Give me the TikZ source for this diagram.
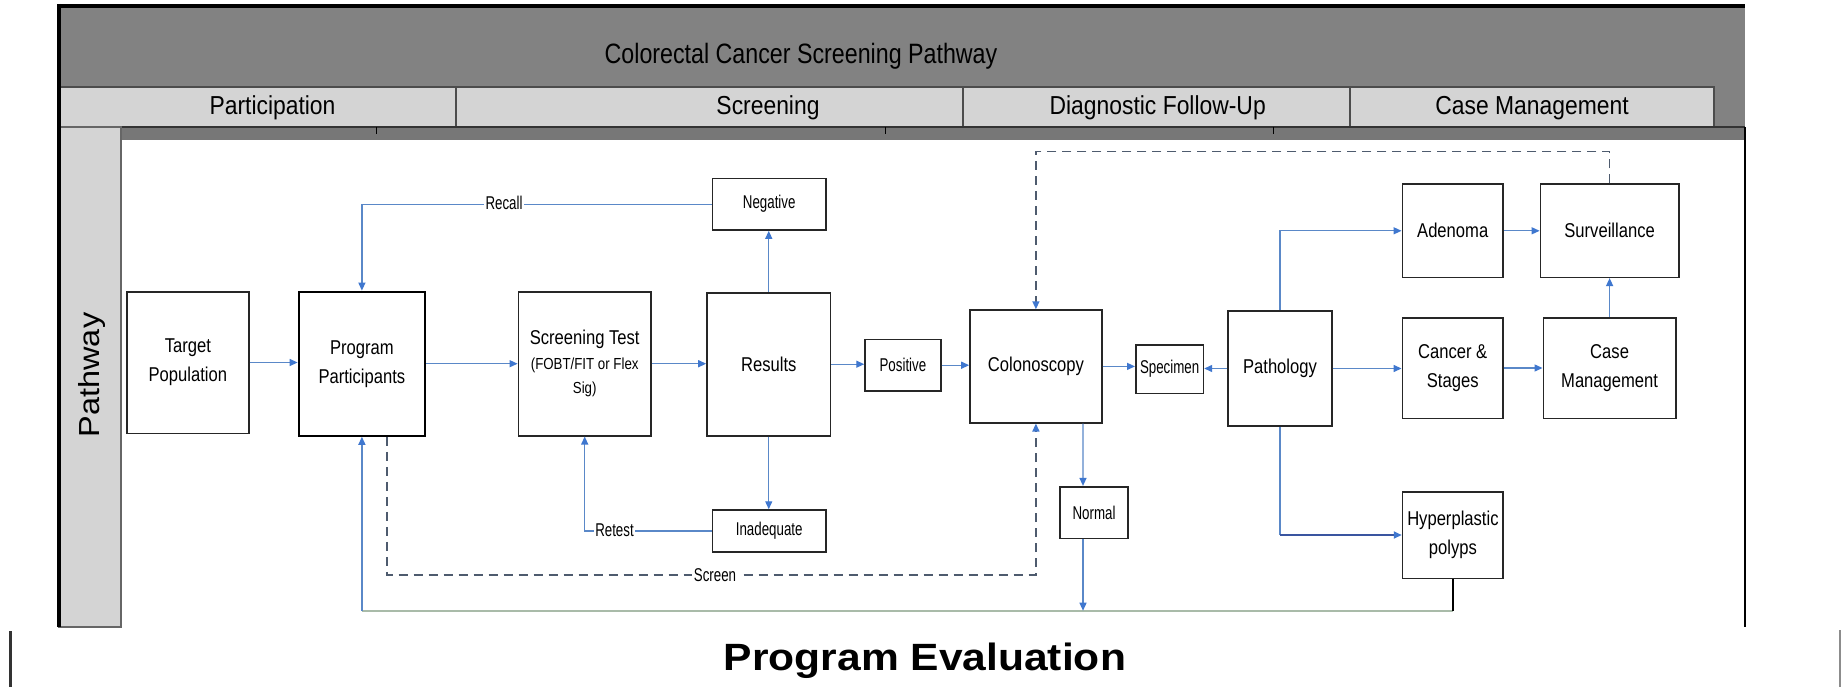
\documentclass[tikz,border=0pt]{standalone}
\usepackage{fontspec}
\setmainfont{Liberation Sans}
\newfontfamily\boxfont[FakeStretch=0.83]{Liberation Sans}
\newfontfamily\labfont[FakeStretch=0.72]{Liberation Sans}
\newfontfamily\headfont[FakeStretch=0.88]{Liberation Sans}
\newfontfamily\widefont[FakeStretch=1.12]{Liberation Sans}
\usetikzlibrary{arrows.meta,calc}
\definecolor{bandgray}{HTML}{828282}
\definecolor{stripgray}{HTML}{777777}
\definecolor{cellgray}{HTML}{D4D4D4}
\definecolor{flowblue}{HTML}{5A88C8}
\definecolor{tipblue}{HTML}{3F77CF}
\definecolor{navyblue}{HTML}{3A55A0}
\definecolor{dashgray}{HTML}{4E5B6E}
\definecolor{basegreen}{HTML}{A9BBA9}
\begin{document}
\begin{tikzpicture}[x=1pt,y=-1pt,
  box/.style={draw=black!85, line width=1.6pt, fill=white, inner sep=0pt, align=center,
    font=\boxfont\fontsize{20}{29}\selectfont},
  sbox/.style={draw=black!85, line width=1.6pt, fill=white, inner sep=0pt, align=center,
    font=\labfont\fontsize{18.5}{22}\selectfont},
  lab/.style={fill=white, inner sep=1.5pt, font=\labfont\fontsize{18.5}{22}\selectfont},
  head/.style={anchor=base, font=\headfont\fontsize{26}{28}\selectfont},
  flow/.style={draw=flowblue, line width=1.3pt, -{Triangle[length=8pt,width=7pt,color=tipblue]}},
  plainflow/.style={draw=flowblue, line width=1.3pt},
  dashflow/.style={draw=dashgray, line width=1.5pt, dash pattern=on 9pt off 6pt,
    -{Triangle[length=8pt,width=7pt,color=tipblue]}},
  baseroute/.style={draw=basegreen, line width=1.8pt},
]
\useasboundingbox (0,0) rectangle (1843,687);
\fill[white] (0,0) rectangle (1843,687);

% ---------- frame ----------
\fill[bandgray] (59,6) rectangle (1745,127);
\foreach \a/\b in {59/456,456/963,963/1350,1350/1714}
  \filldraw[fill=cellgray, draw=black!70, line width=1.2pt] (\a,87) rectangle (\b,127);
\fill[stripgray] (121,127) rectangle (1745,140);
\draw[black!80, line width=1.5pt] (121,127) -- (1745,127);
\foreach \t in {376,885,1273} \draw[black, line width=1pt] (\t,127) -- (\t,134);
\filldraw[fill=cellgray, draw=black!60, line width=1.5pt] (59,127) rectangle (121,627);
\draw[black, line width=4pt] (57,6) -- (1745,6);
\draw[black, line width=4.5pt] (59,4) -- (59,627);
\draw[black, line width=2pt] (1745,127) -- (1745,627);
\draw[black!80, line width=3pt] (10,631) -- (10,687);
\draw[black!45, line width=2pt] (1840,630) -- (1840,687);

\node[anchor=base, font=\boxfont\fontsize{28}{30}\selectfont] (title) at (801,63.5) {Colorectal Cancer Screening Pathway};
\node[head] (hpart) at (272.5,115) {Participation};
\node[head] (hscreen) at (768,115) {Screening};
\node[head] (hdiag) at (1157.7,115) {Diagnostic Follow-Up};
\node[head] (hcase) at (1532,115) {Case Management};
\node[rotate=90, font=\widefont\fontsize{29}{30}\selectfont] (pathway) at (92,375) {Pathway};
\node[anchor=base, font=\widefont\bfseries\fontsize{38}{40}\selectfont] (eval) at (925,670) {Program Evaluation};

% ---------- boxes ----------
\node[box, minimum width=122.3pt, minimum height=141.6pt] (target) at (187.9,362.5) {Target\\Population};
\node[box, line width=2.2pt, draw=black, minimum width=126.4pt, minimum height=144pt] (program) at (361.9,363.7) {Program\\Participants};
\node[box, font=\boxfont\fontsize{20}{24.5}\selectfont, minimum width=132.6pt, minimum height=144pt] (screen) at (584.7,363.7)
  {Screening Test\\{\fontsize{16}{24.5}\selectfont(FOBT/FIT or Flex}\\{\fontsize{16}{24.5}\selectfont Sig)}};
\node[box, minimum width=123.5pt, minimum height=143pt] (results) at (768.75,364.2) {Results};
\node[sbox, minimum width=113.6pt, minimum height=51.7pt] (negative) at (769.2,204.2) {Negative};
\node[sbox, minimum width=113.7pt, minimum height=41.7pt] (inadequate) at (769.2,530.9) {Inadequate};
\node[sbox, minimum width=75.7pt, minimum height=51.7pt] (positive) at (902.9,365.2) {Positive};
\node[box, minimum width=131.8pt, minimum height=112.7pt] (colon) at (1035.9,366.4) {Colonoscopy};
\node[sbox, minimum width=67.6pt, minimum height=48.3pt] (specimen) at (1169.6,369.2) {Specimen};
\node[box, minimum width=103.7pt, minimum height=115pt] (patho) at (1280,368.5) {Pathology};
\node[sbox, minimum width=68.5pt, minimum height=51.6pt] (normal) at (1094,512.5) {Normal};
\node[box, minimum width=100.7pt, minimum height=93pt] (adenoma) at (1452.7,230.8) {Adenoma};
\node[box, minimum width=138.4pt, minimum height=93pt] (surv) at (1609.6,230.8) {Surveillance};
\node[box, minimum width=100.7pt, minimum height=100.6pt] (cancer) at (1452.7,368) {Cancer \&\\Stages};
\node[box, minimum width=132.6pt, minimum height=100.6pt] (casemgmt) at (1609.6,368) {Case\\Management};
\node[box, minimum width=100.7pt, minimum height=86.6pt] (hyper) at (1452.9,535) {Hyperplastic\\polyps};

% ---------- connectors ----------
\draw[flow] (target.east) -- (target.east -| program.west);
\draw[flow] (program.east) -- (program.east -| screen.west);
\draw[flow] (screen.east) -- (screen.east -| results.west);
\draw[flow] (results.east) -- (results.east -| positive.west);
\draw[flow] (positive.east) -- (positive.east -| colon.west);
\draw[flow] (colon.east) -- (colon.east -| specimen.west);
\draw[flow] (patho.west) -- (patho.west -| specimen.east);
\draw[flow] (patho.east) -- (patho.east -| cancer.west);
\draw[flow] (cancer.east) -- (cancer.east -| casemgmt.west);
\draw[flow] (casemgmt.north) -- (surv.south);
\draw[flow] (adenoma.east) -- (adenoma.east -| surv.west);
\draw[flow] (patho.north) |- (adenoma.west);
\coordinate (hcorner) at (patho.south |- hyper.west);
\draw[plainflow] (patho.south) -- (hcorner);
\draw[flow, draw=navyblue, line width=2pt] (hcorner) -- (hyper.west);
\draw[flow] (results.north) -- (results.north |- negative.south);
\draw[flow] (results.south) -- (results.south |- inadequate.north);
\draw[flow] (negative.west) -| (program.north);
\node[lab] (recall) at (504,203.3) {Recall};
\draw[flow] (inadequate.west) -| (screen.south);
\node[lab] (retest) at (614.5,530.7) {Retest};

\coordinate (scrmid) at (700,575);
\draw[dashflow] ([xshift=25pt]program.south) |- (scrmid) -| (colon.south);
\node[lab] (screenlab) at (715,575) {Screen};
\coordinate (topmid) at (1300,151.7);
\draw[dashflow] (surv.north) |- (topmid) -| (colon.north);

\draw[flow] ([xshift=47pt]colon.south) -- ([xshift=-11pt]normal.north);
\coordinate (nbase) at (1083,610.7);
\coordinate (hbase) at (1452.9,610.7);
\coordinate (pbase) at (361.9,610.7);
\draw[baseroute] (hbase) -- (pbase);
\draw[black, line width=1.4pt] (hyper.south) -- (hbase);
\draw[flow] ([xshift=-11pt]normal.south) -- (nbase);
\draw[flow] (pbase) -- (program.south);
\end{tikzpicture}
\end{document}
